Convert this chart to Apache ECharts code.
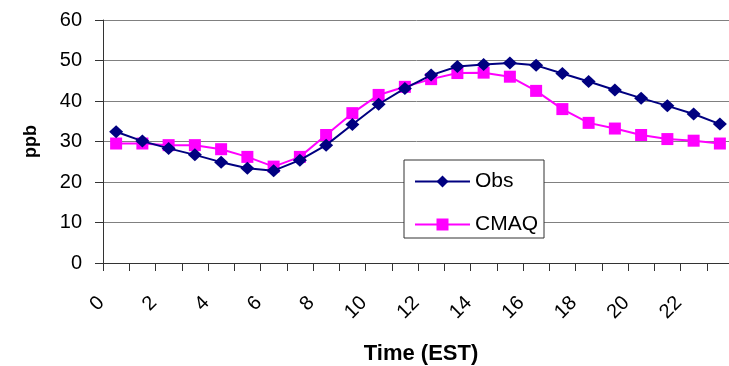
<!DOCTYPE html>
<html>
<head>
<meta charset="utf-8">
<title>Diurnal ozone: Obs vs CMAQ</title>
<script src="https://cdn.jsdelivr.net/npm/echarts@6/dist/echarts.min.js"></script>
<style>
  html, body { margin: 0; padding: 0; background: #ffffff; }
  #chart { width: 729px; height: 366px; }
</style>
</head>
<body>
<div id="chart"></div>
<script>
// Hour of day (EST)
const hours = ['0','1','2','3','4','5','6','7','8','9','10','11','12','13','14','15','16','17','18','19','20','21','22','23'];

// Observed hourly mean (ppb)
const obs = [32.4, 30.1, 28.3, 26.7, 24.9, 23.4, 22.8, 25.4, 29.1, 34.2, 39.2, 43.1, 46.4, 48.5, 49.0, 49.4, 48.8, 46.8, 44.8, 42.7, 40.7, 38.8, 36.8, 34.3];

// CMAQ modeled hourly mean (ppb)
const cmaq = [29.5, 29.5, 29.1, 29.1, 28.1, 26.2, 23.8, 26.2, 31.6, 37.0, 41.5, 43.5, 45.4, 46.9, 47.0, 46.0, 42.5, 38.0, 34.6, 33.2, 31.6, 30.6, 30.2, 29.5];

// Value axis ticks
const yTicks = { min: 0, max: 60, step: 10 };

const FONT = '"Liberation Sans", Arial, sans-serif';

const chart = echarts.init(document.getElementById('chart'), null, { renderer: 'canvas' });

chart.setOption({
  animation: false,
  backgroundColor: '#ffffff',
  // fixed plot rectangle; the last column runs slightly past the right edge
  grid: { left: 103, top: 20, width: 630, height: 243, containLabel: false, outerBoundsMode: 'none' },
  legend: {
    orient: 'vertical',
    left: 404,
    top: 160,
    padding: [11, 6, 3, 10],
    itemGap: 22,
    itemWidth: 55,
    itemHeight: 15,
    backgroundColor: '#ffffff',
    borderColor: '#333333',
    borderWidth: 1,
    borderRadius: 0,
    textStyle: { fontFamily: FONT, fontSize: 21, color: '#000000' },
    data: ['Obs', 'CMAQ']
  },
  xAxis: {
    type: 'category',
    data: hours,
    boundaryGap: true,
    name: 'Time (EST)',
    nameLocation: 'middle',
    nameGap: 80,
    nameTextStyle: { fontFamily: FONT, fontSize: 22, fontWeight: 'bold', color: '#000000', padding: [0, 0, 0, 6] },
    axisLine: { lineStyle: { color: '#333333', width: 1 } },
    axisTick: { show: true, interval: 0, length: 8, inside: false, lineStyle: { color: '#333333' } },
    axisLabel: {
      interval: 1,
      rotate: 45,
      margin: 22,
      padding: [0, 21, 0, 0],
      fontFamily: FONT,
      fontSize: 20,
      color: '#000000'
    },
    splitLine: { show: false }
  },
  yAxis: {
    type: 'value',
    min: yTicks.min,
    max: yTicks.max,
    interval: yTicks.step,
    name: 'ppb',
    nameLocation: 'middle',
    nameGap: 63,
    nameTextStyle: { fontFamily: FONT, fontSize: 18, fontWeight: 'bold', color: '#000000' },
    axisLine: { show: true, lineStyle: { color: '#333333', width: 1 } },
    axisTick: { show: true, length: 8, inside: false, lineStyle: { color: '#333333' } },
    axisLabel: { margin: 21, fontFamily: FONT, fontSize: 20, color: '#000000' },
    splitLine: { show: true, lineStyle: { color: '#808080', width: 1 } }
  },
  series: [
    {
      name: 'Obs',
      type: 'line',
      data: obs,
      symbol: 'diamond',
      symbolSize: [14, 13],
      showAllSymbol: true,
      z: 3,
      lineStyle: { color: '#000080', width: 2 },
      itemStyle: { color: '#000080', borderWidth: 0 }
    },
    {
      name: 'CMAQ',
      type: 'line',
      data: cmaq,
      symbol: 'rect',
      symbolSize: 12,
      showAllSymbol: true,
      z: 2,
      lineStyle: { color: '#ff00ff', width: 2 },
      itemStyle: { color: '#ff00ff', borderWidth: 0 }
    }
  ]
});
</script>
</body>
</html>
